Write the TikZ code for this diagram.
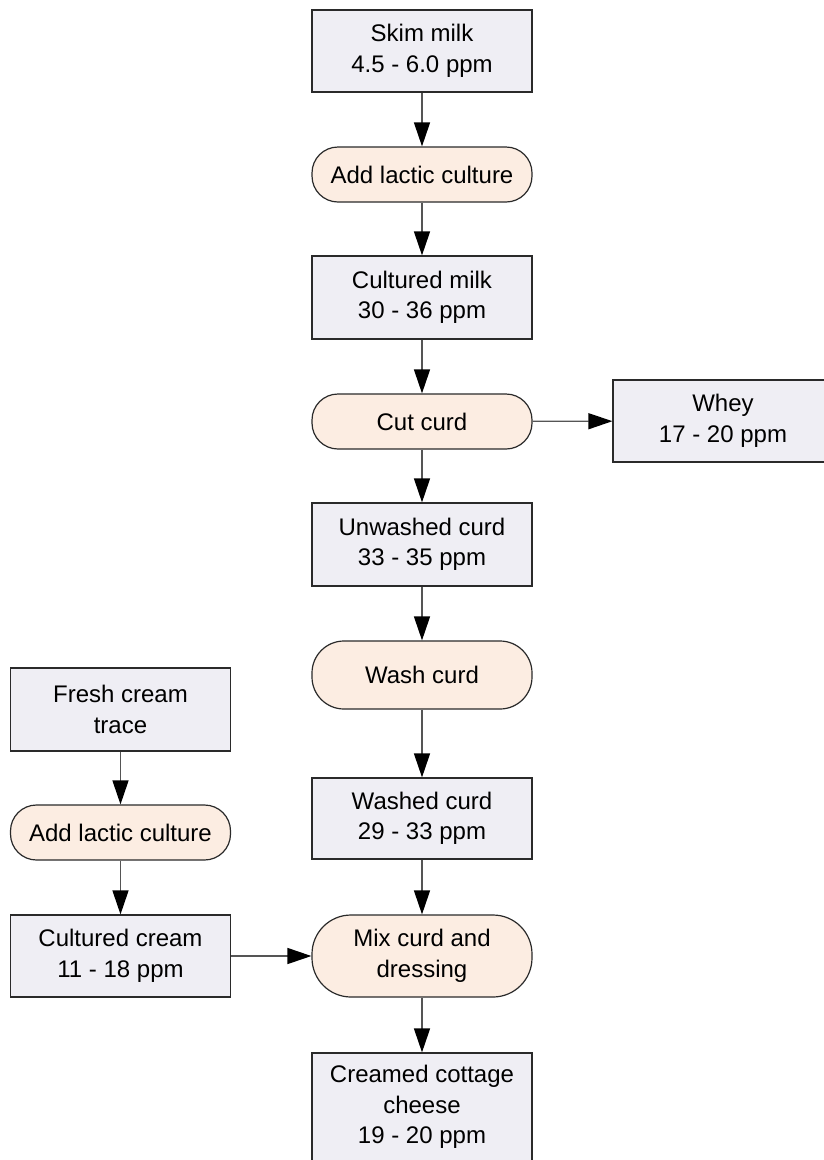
\documentclass[tikz,border=0pt]{standalone}
\usepackage{fontspec}
\setmainfont{Liberation Sans}
\usetikzlibrary{arrows.meta}
\definecolor{boxfill}{HTML}{EFEEF4}
\definecolor{pillfill}{HTML}{FCEDE2}
\definecolor{edgecol}{HTML}{2A2A2A}
\definecolor{linecol}{HTML}{555555}
\begin{document}
\begin{tikzpicture}[x=1pt,y=-1pt,
  every node/.style={font=\fontsize{24}{30.5}\selectfont, align=center, text=black},
  stepbox/.style={draw=edgecol, line width=1.2pt, fill=boxfill, minimum width=220pt, inner sep=0pt},
  pill/.style={draw=edgecol, line width=1.2pt, fill=pillfill, minimum width=220pt, inner sep=0pt, rounded corners=26pt},
  conn/.style={draw=linecol, line width=1.3pt, -{Triangle[length=24pt,width=16pt,fill=black,color=black]}}
]
\useasboundingbox (0,0) rectangle (824,1160);
\node[stepbox, minimum height=82pt] (skim) at (422,51) {Skim milk\\4.5 - 6.0 ppm};
\node[pill, minimum height=55pt] (add1) at (422,174.5) {Add lactic culture};
\node[stepbox, minimum height=83pt] (cmilk) at (422,297.5) {Cultured milk\\30 - 36 ppm};
\node[pill, minimum height=55pt] (cut) at (422,421.5) {Cut curd};
\node[stepbox, minimum height=82pt] (whey) at (723,421) {Whey\\17 - 20 ppm};
\node[stepbox, minimum height=83pt] (unw) at (422,544.5) {Unwashed curd\\33 - 35 ppm};
\node[pill, minimum height=68pt, rounded corners=32pt] (wash) at (422,675) {Wash curd};
\node[stepbox, minimum height=81pt] (washed) at (422,818.5) {Washed curd\\29 - 33 ppm};
\node[pill, minimum height=82pt, rounded corners=39pt] (mix) at (422,956) {Mix curd and\\dressing};
\node[stepbox, minimum height=108pt] (creamed) at (422,1107) {Creamed cottage\\cheese\\19 - 20 ppm};
\node[stepbox, minimum height=83pt] (fresh) at (120.5,709.5) {Fresh cream\\trace};
\node[pill, minimum height=55pt] (add2) at (120.5,832.5) {Add lactic culture};
\node[stepbox, minimum height=82pt] (ccream) at (120.5,956) {Cultured cream\\11 - 18 ppm};
\draw[conn] (skim) -- (add1);
\draw[conn] (add1) -- (cmilk);
\draw[conn] (cmilk) -- (cut);
\draw[conn] (cut) -- (whey);
\draw[conn] (cut) -- (unw);
\draw[conn] (unw) -- (wash);
\draw[conn] (wash) -- (washed);
\draw[conn] (washed) -- (mix);
\draw[conn] (mix) -- (creamed);
\draw[conn] (fresh) -- (add2);
\draw[conn] (add2) -- (ccream);
\draw[conn] (ccream) -- (mix);
\end{tikzpicture}
\end{document}
